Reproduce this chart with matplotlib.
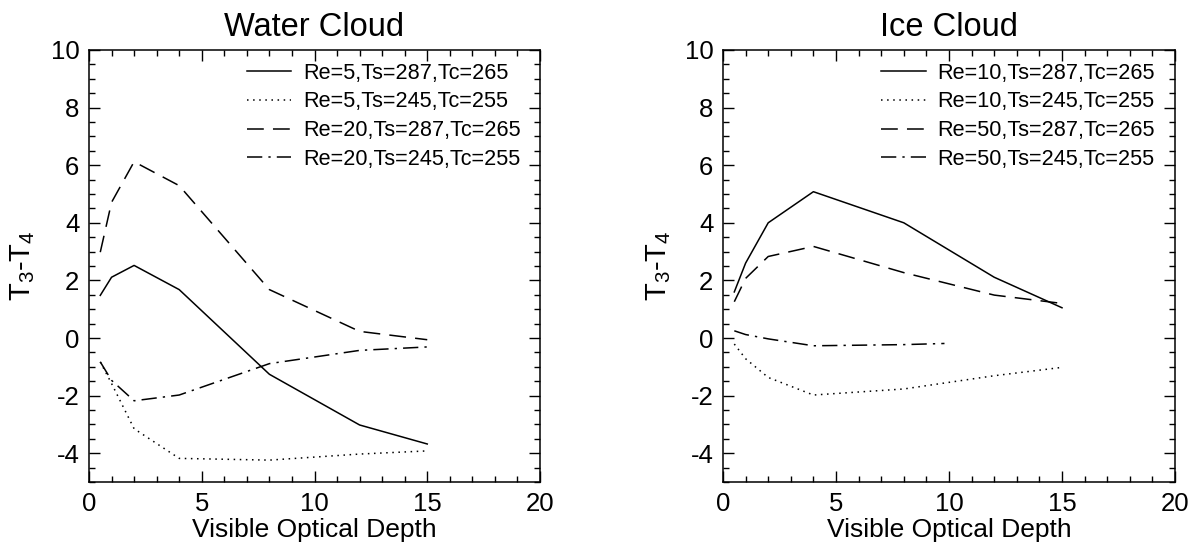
import matplotlib.pyplot as plt
from matplotlib.ticker import MultipleLocator

plt.rcParams['font.family'] = ['Liberation Sans', 'DejaVu Sans']
plt.rcParams['mathtext.fontset'] = 'custom'
plt.rcParams['mathtext.rm'] = 'Liberation Sans'
plt.rcParams['mathtext.it'] = 'Liberation Sans'
plt.rcParams['axes.unicode_minus'] = False

# Water cloud curves (visible optical depth vs T3-T4)
water_x = [0.5, 1, 2, 4, 8, 12, 15]
water_re5_warm = [1.48, 2.11, 2.52, 1.68, -1.26, -3.02, -3.68]
water_re5_cold = [-0.83, -1.58, -3.15, -4.18, -4.24, -4.03, -3.92]
water_re20_warm = [2.98, 4.71, 6.12, 5.29, 1.68, 0.23, -0.06]
water_re20_cold = [-0.83, -1.47, -2.18, -1.98, -0.89, -0.43, -0.31]
water_labels = ['Re=5,Ts=287,Tc=265', 'Re=5,Ts=245,Tc=255',
                'Re=20,Ts=287,Tc=265', 'Re=20,Ts=245,Tc=255']

# Ice cloud curves
ice_x = [0.5, 1, 2, 4, 8, 12, 15]
ice_re10_warm = [1.6, 2.6, 4.0, 5.08, 4.0, 2.11, 1.05]
ice_re10_cold = [-0.21, -0.72, -1.37, -1.98, -1.77, -1.31, -1.02]
ice_re50_warm = [1.26, 2.07, 2.83, 3.18, 2.27, 1.49, 1.2]
ice_x_short = [0.5, 1, 2, 4, 8, 9.8]
ice_re50_cold = [0.25, 0.12, -0.03, -0.27, -0.23, -0.19]
ice_labels = ['Re=10,Ts=287,Tc=265', 'Re=10,Ts=245,Tc=255',
              'Re=50,Ts=287,Tc=265', 'Re=50,Ts=245,Tc=255']

styles = [dict(ls='-'), dict(ls=(0, (1, 3))), dict(ls=(0, (11, 6))),
          dict(ls=(0, (10, 4, 1.5, 4)))]

fig = plt.figure(figsize=(11.91, 5.48), dpi=100)
ax1 = fig.add_axes([89 / 1191, 1 - 482 / 548, 451 / 1191, 432 / 548])
ax2 = fig.add_axes([723 / 1191, 1 - 482 / 548, 452 / 1191, 432 / 548])

panels = [
    (ax1, 'Water Cloud', [(water_x, water_re5_warm), (water_x, water_re5_cold),
                          (water_x, water_re20_warm), (water_x, water_re20_cold)], water_labels, 10),
    (ax2, 'Ice Cloud', [(ice_x, ice_re10_warm), (ice_x, ice_re10_cold),
                        (ice_x, ice_re50_warm), (ice_x_short, ice_re50_cold)], ice_labels, 8),
]

for ax, title, curves, labels, ypad in panels:
    for (xs, ys), st, lab in zip(curves, styles, labels):
        ax.plot(xs, ys, color='black', lw=1.1, label=lab, **st)
    ax.set_xlim(0, 20)
    ax.set_ylim(-5, 10)
    ax.xaxis.set_major_locator(MultipleLocator(5))
    ax.xaxis.set_minor_locator(MultipleLocator(1))
    ax.yaxis.set_major_locator(MultipleLocator(2))
    ax.yaxis.set_minor_locator(MultipleLocator(0.5))
    ax.tick_params(which='both', direction='in', top=True, right=True,
                   labelsize=18.5, width=1)
    ax.tick_params(which='major', length=8, pad=7)
    ax.tick_params(which='minor', length=4)
    for sp in ax.spines.values():
        sp.set_linewidth(1.1)
    ax.set_title(title, fontsize=23.5, pad=10)
    ax.set_xlabel('Visible Optical Depth', fontsize=19, labelpad=2)
    ax.set_ylabel(r'T$_{\mathrm{3}}$-T$_{\mathrm{4}}$', fontsize=21, labelpad=ypad)
    ax.legend(loc='upper left', bbox_to_anchor=(0.35, 0.971), frameon=False,
              fontsize=15.6, borderpad=0, borderaxespad=0, handlelength=2.05,
              handletextpad=0.55, labelspacing=0.36)

fig.savefig('out.png', dpi=100)
